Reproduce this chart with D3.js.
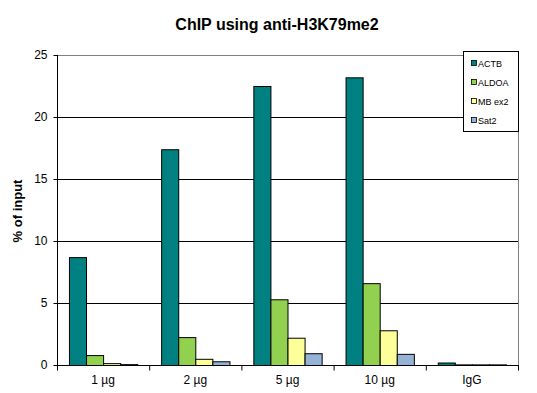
<!DOCTYPE html>
<html><head><meta charset="utf-8">
<script src="https://cdn.jsdelivr.net/npm/d3@7"></script>
<style>body{margin:0;background:#fff}svg{display:block;font-family:Arial,"Liberation Sans",sans-serif}</style>
</head><body><svg id="c" width="537" height="393"></svg>
<script>
const categories = ["1 µg","2 µg","5 µg","10 µg","IgG"];
const seriesNames = ["ACTB","ALDOA","MB ex2","Sat2"];
const colors = ["#008080","#92D050","#FFFF99","#95B3D7"];
const ACTB = [8.7, 17.4, 22.5, 23.2, 0.2];
const ALDOA = [0.8, 2.25, 5.3, 6.6, 0.05];
const MBex2 = [0.15, 0.5, 2.2, 2.8, 0.05];
const Sat2 = [0.07, 0.3, 0.95, 0.9, 0.05];
const yTicks = [0,5,10,15,20,25];
const values = [ACTB, ALDOA, MBex2, Sat2];

const svg = d3.select("#c");
const L=57, R=518, T=55, B=365;
const x = d3.scaleBand().domain(categories).range([L,R]).paddingInner(0).paddingOuter(0);
const xi = d3.scaleBand().domain(seriesNames).range([0,x.bandwidth()]).paddingInner(0).paddingOuter(0.7);
const y = d3.scaleLinear().domain([0,25]).range([B,T]);

// gridlines
svg.append("g").selectAll("line").data(yTicks.filter(d=>d>0)).join("line")
  .attr("x1",L).attr("x2",R).attr("y1",d=>y(d)+0.5).attr("y2",d=>y(d)+0.5)
  .attr("stroke",d=>d===25?"#808080":"#000").attr("stroke-width",1);
// right border
svg.append("line").attr("x1",R+0.5).attr("x2",R+0.5).attr("y1",T).attr("y2",B).attr("stroke","#808080");

// bars
const g = svg.append("g");
seriesNames.forEach((s,si)=>{
  g.append("g").selectAll("rect").data(categories).join("rect")
    .attr("x",(c)=>x(c)+xi(s)+0.5)
    .attr("width",xi.bandwidth())
    .attr("y",(c,i)=>y(values[si][i])+0.5)
    .attr("height",(c,i)=>Math.max(0,B-y(values[si][i])))
    .attr("fill",colors[si]).attr("stroke","#000").attr("stroke-width",1);
});

// y axis
const ya = svg.append("g").attr("transform",`translate(${L+0.5},0)`)
  .call(d3.axisLeft(y).tickValues(yTicks).tickSize(4).tickPadding(6));
ya.selectAll("text").attr("font-size",12).attr("font-family","Arial").attr("fill","#000");
ya.selectAll("line").attr("stroke","#000");
ya.select(".domain").attr("d",`M0,${T}V${B}`).attr("stroke","#000");

// x axis
const xa = svg.append("g").attr("transform",`translate(0,${B+0.5})`)
  .call(d3.axisBottom(x).tickSize(0).tickPadding(10));
xa.selectAll("text").attr("font-size",12).attr("font-family","Arial").attr("fill","#000");
xa.select(".domain").attr("d",`M${L},0H${R+1}`).attr("stroke","#000");
xa.append("g").selectAll("line").data(d3.range(categories.length+1)).join("line")
  .attr("x1",i=>L+i*x.bandwidth()+0.5).attr("x2",i=>L+i*x.bandwidth()+0.5)
  .attr("y1",0).attr("y2",5).attr("stroke","#000");

// title
svg.append("text").attr("x",277).attr("y",30).attr("text-anchor","middle")
  .attr("font-size",16).attr("font-weight","bold").text("ChIP using anti-H3K79me2");
svg.append("text").attr("transform","translate(22,211) rotate(-90)").attr("text-anchor","middle")
  .attr("font-size",13).attr("font-weight","bold").text("% of input");

// legend
const lg = svg.append("g");
lg.append("rect").attr("x",463.5).attr("y",51.5).attr("width",55).attr("height",80)
  .attr("fill","#fff").attr("stroke","#000");
seriesNames.forEach((s,i)=>{
  const yy = 64 + i*19;
  lg.append("rect").attr("x",471.5).attr("y",yy-3.5).attr("width",5).attr("height",5)
    .attr("fill",colors[i]).attr("stroke","#000").attr("stroke-width",0.8);
  lg.append("text").attr("x",478).attr("y",yy+3).attr("font-size",9).text(s);
});
</script></body></html>
